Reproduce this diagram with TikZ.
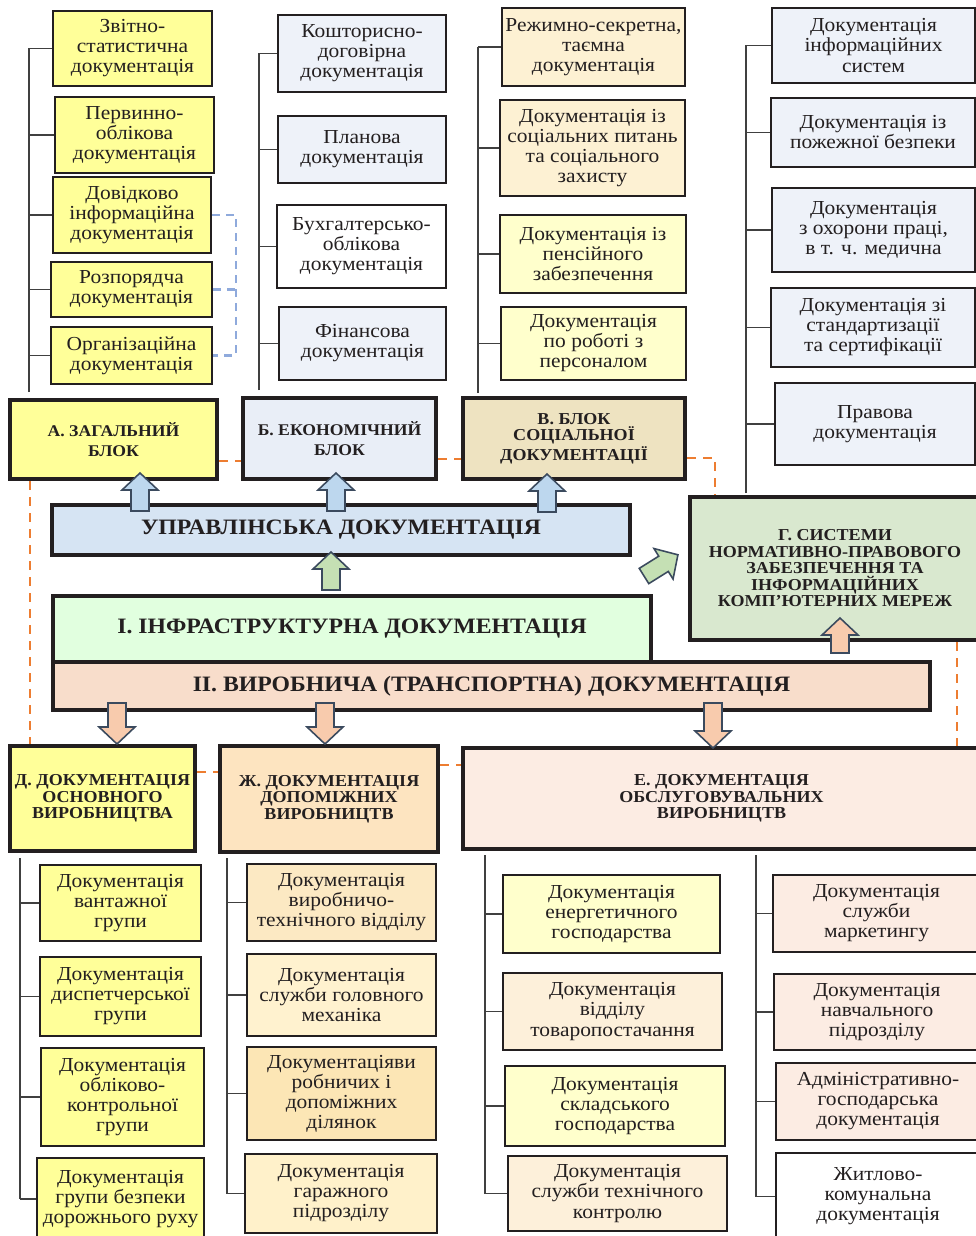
\documentclass[tikz,border=0pt]{standalone}
\usepackage{fontspec}
\setmainfont{Liberation Serif}[FakeStretch=1.08]

\definecolor{frame}{HTML}{231F20}
\definecolor{ink}{HTML}{231F20}
\definecolor{yel}{HTML}{FFFF99}
\definecolor{lightyel}{HTML}{FFFFCC}
\definecolor{leafblue}{HTML}{EEF2F9}
\definecolor{blkblue}{HTML}{E9EEF7}
\definecolor{lighttan}{HTML}{FDF1D3}
\definecolor{tanblk}{HTML}{EEE3C1}
\definecolor{mgmt}{HTML}{D6E4F3}
\definecolor{sysg}{HTML}{D9E8CF}
\definecolor{infra}{HTML}{E1FFDF}
\definecolor{prod}{HTML}{F8DDCB}
\definecolor{aux}{HTML}{FDE4C0}
\definecolor{serv}{HTML}{FCECE3}
\definecolor{zone}{HTML}{FCE9C3}
\definecolor{ztwo}{HTML}{FFF2CF}
\definecolor{zthree}{HTML}{FCE6B5}
\definecolor{zfour}{HTML}{FFF1CA}
\definecolor{etan}{HTML}{FDF0DA}
\definecolor{arrowblue}{HTML}{BDD7EE}
\definecolor{arrowgreen}{HTML}{C5E0B4}
\definecolor{arroworange}{HTML}{F8CBAD}
\definecolor{arrowline}{HTML}{3B4A5E}
\definecolor{dashorange}{HTML}{ED7D31}
\definecolor{dashblue}{HTML}{8FAADC}

\tikzset{
    sz/.style 2 args={minimum width=#1*0.2mm, minimum height=#2*0.2mm},
    leaf/.style={draw=frame, line width=1.6pt, align=center, inner sep=0pt,
        text=ink, font=\fontsize{11.3}{11.4}\selectfont},
    blk/.style={draw=frame, line width=2.4pt, align=center, inner sep=0pt,
        text=ink, font=\bfseries\fontsize{9.5}{9.4}\selectfont},
    hdA/.style={font=\bfseries\fontsize{9.3}{11.4}\selectfont},
    big/.style={font=\bfseries\fontsize{12.5}{14}\selectfont},
    tree/.style={draw=black!75, line width=0.7pt},
    odash/.style={draw=dashorange, line width=1.5pt, dash pattern=on 1.8mm off 1.4mm},
    bdash/.style={draw=dashblue, line width=1.3pt, dash pattern=on 1.6mm off 1.2mm},
    barrow/.style={draw=arrowline, line width=0.9pt, line join=miter},
}

% block arrow: [angle]{base}{length}{fill}
\newcommand\blockarr[4][0]{%
    \filldraw[barrow, fill=#4, rotate around={#1:#2}] #2 ++(-9,0) -- ++(0,-#3+17)
        -- ++(-9,0) -- ++(18,-17) -- ++(18,17) -- ++(-9,0) -- ++(0,#3-17) -- cycle;}

\begin{document}
\begin{tikzpicture}[x=0.2mm, y=-0.2mm]
    \useasboundingbox (0,0) rectangle (976,1236);

    \coordinate (ta) at (29,392);
    \coordinate (tb) at (259,390);
    \coordinate (tv) at (478,393);
    \coordinate (tg) at (746,493);
    \coordinate (td) at (20,858);
    \coordinate (tz) at (227,858);
    \coordinate (te) at (485,855);
    \coordinate (tf) at (756,855);

    \foreach \cx/\cy/\w/\h/\fc/\txt [count=\n] in {%
        132.5/48.5/159/75/yel/{Звітно-\\статистична\\документація},
        134.5/135/159/76/yel/{Первинно-\\облікова\\документація},
        132/215/158/76/yel/{Довідково\\інформаційна\\документація},
        131.5/289.5/161/55/yel/{Розпорядча\\документація},
        131.5/355.5/161/57/yel/{Організаційна\\документація}%
    }{
        \node[leaf, sz={\w}{\h}, fill=\fc] (a\n) at (\cx,\cy) {\txt};
        \draw[tree] (ta |- a\n.west) -- (a\n.west);
    }
    \foreach \cx/\cy/\w/\h/\fc/\txt [count=\n] in {%
        362/53.5/168/77/leafblue/{Кошторисно-\\договірна\\документація},
        362/149.5/168/67/leafblue/{Планова\\документація},
        361.5/246.5/169/83/white/{Бухгалтерсько-\\облікова\\документація},
        362.5/343.5/167/73/leafblue/{Фінансова\\документація}%
    }{
        \node[leaf, sz={\w}{\h}, fill=\fc] (b\n) at (\cx,\cy) {\txt};
        \draw[tree] (tb |- b\n.west) -- (b\n.west);
    }
    \foreach \cx/\cy/\w/\h/\fc/\txt [count=\n] in {%
        593.5/47/183/78/lighttan/{Режимно-секретна,\\таємна\\документація},
        592.5/148/185/96/lighttan/{Документація із\\соціальних питань\\та соціального\\захисту},
        593/254/186/78/lightyel/{Документація із\\пенсійного\\забезпечення},
        593.5/343.5/185/73/lightyel/{Документація\\по роботі з\\персоналом}%
    }{
        \node[leaf, sz={\w}{\h}, fill=\fc] (v\n) at (\cx,\cy) {\txt};
        \draw[tree] (tv |- v\n.west) -- (v\n.west);
    }
    \foreach \cx/\cy/\w/\h/\fc/\txt [count=\n] in {%
        873.5/45.5/203/75/leafblue/{Документація\\інформаційних\\систем},
        873/132.5/204/69/leafblue/{Документація із\\пожежної безпеки},
        873.5/230/203/84/leafblue/{Документація\\з охорони праці,\\в т. ч. медична},
        873/327.5/204/79/leafblue/{Документація зі\\стандартизації\\та сертифікації},
        875/424/200/82/leafblue/{Правова\\документація}%
    }{
        \node[leaf, sz={\w}{\h}, fill=\fc] (g\n) at (\cx,\cy) {\txt};
        \draw[tree] (tg |- g\n.west) -- (g\n.west);
    }
    \draw[tree] (ta) -- (ta |- a1.west);
    \draw[tree] (tb) -- (tb |- b1.west);
    \draw[tree] (tv) -- (tv |- v1.west);
    \draw[tree] (tg) -- (tg |- g1.west);

    \coordinate (bd) at (236,0);
    \draw[bdash] (a3.east) -| (bd |- a5.east) -- (a5.east);
    \draw[bdash] (a4.east) -- (bd |- a4.east);

    % blocks
    \node[blk, hdA, sz={207}{79}, fill=yel] (blA) at (113.5,439.5) {А. ЗАГАЛЬНИЙ\\БЛОК};
    \node[blk, hdA, sz={193}{81}, fill=blkblue] (blB) at (339.5,438.5) {Б. ЕКОНОМІЧНИЙ\\БЛОК};
    \node[blk, sz={222}{81}, fill=tanblk] (blV) at (574,438.5) {В. БЛОК\\СОЦІАЛЬНОЇ\\ДОКУМЕНТАЦІЇ};
    \node[blk, big, sz={578}{50}, fill=mgmt] (upr) at (341,530) {УПРАВЛІНСЬКА ДОКУМЕНТАЦІЯ};
    \node[blk, sz={290}{143}, fill=sysg] (blG) at (835,568.5)
        {Г. СИСТЕМИ\\НОРМАТИВНО-ПРАВОВОГО\\ЗАБЕЗПЕЧЕННЯ ТА\\ІНФОРМАЦІЙНИХ\\КОМП’ЮТЕРНИХ МЕРЕЖ};
    \node[blk, big, sz={598}{66}, fill=infra] (inf) at (352,629) {І. ІНФРАСТРУКТУРНА ДОКУМЕНТАЦІЯ};
    \node[blk, big, sz={877}{48}, fill=prod] (vyr) at (491.5,686) {ІІ. ВИРОБНИЧА (ТРАНСПОРТНА) ДОКУМЕНТАЦІЯ};
    \node[blk, sz={185}{105}, fill=yel] (blD) at (102.5,798.5) {Д. ДОКУМЕНТАЦІЯ\\ОСНОВНОГО\\ВИРОБНИЦТВА};
    \node[blk, sz={218}{106}, fill=aux] (blZh) at (329,799) {Ж. ДОКУМЕНТАЦІЯ\\ДОПОМІЖНИХ\\ВИРОБНИЦТВ};
    \node[blk, sz={517}{101}, fill=serv] (blE) at (721.5,798.5) {Е. ДОКУМЕНТАЦІЯ\\ОБСЛУГОВУВАЛЬНИХ\\ВИРОБНИЦТВ};

    % lower groups
    \foreach \cx/\cy/\w/\h/\fc/\txt [count=\n] in {%
        120.5/903/161/76/yel/{Документація\\вантажної\\групи},
        120.5/996.5/161/79/yel/{Документація\\диспетчерської\\групи},
        122.5/1097/163/98/yel/{Документація\\обліково-\\контрольної\\групи},
        120.5/1199/167/82/yel/{Документація\\групи безпеки\\дорожнього руху}%
    }{
        \node[leaf, sz={\w}{\h}, fill=\fc] (d\n) at (\cx,\cy) {\txt};
        \draw[tree] (td |- d\n.west) -- (d\n.west);
    }
    \foreach \cx/\cy/\w/\h/\fc/\txt [count=\n] in {%
        341.5/902.5/189/77/zone/{Документація\\виробничо-\\технічного відділу},
        341.5/995/189/82/ztwo/{Документація\\служби головного\\механіка},
        341.5/1093.5/189/93/zthree/{Документаціяви\\робничих і\\допоміжних\\ділянок},
        341/1193.5/192/79/zfour/{Документація\\гаражного\\підрозділу}%
    }{
        \node[leaf, sz={\w}{\h}, fill=\fc] (z\n) at (\cx,\cy) {\txt};
        \draw[tree] (tz |- z\n.west) -- (z\n.west);
    }
    \foreach \cx/\cy/\w/\h/\fc/\txt [count=\n] in {%
        611.5/914/217/78/lightyel/{Документація\\енергетичного\\господарства},
        612.5/1011.5/219/77/etan/{Документація\\відділу\\товаропостачання},
        615/1106/220/80/lightyel/{Документація\\складського\\господарства},
        617.5/1193.5/219/75/etan/{Документація\\служби технічного\\контролю},
        876.5/913.5/207/77/serv/{Документація\\служби\\маркетингу},
        877/1012/206/76/serv/{Документація\\навчального\\підрозділу},
        878/1101.5/204/77/serv/{Адміністративно-\\господарська\\документація},
        878/1196.5/204/87/white/{Житлово-\\комунальна\\документація}%
    }{
        \node[leaf, sz={\w}{\h}, fill=\fc] (e\n) at (\cx,\cy) {\txt};
    }
    \foreach \n in {1,...,4}{
        \draw[tree] (te |- e\n.west) -- (e\n.west);
    }
    \foreach \n in {5,...,8}{
        \draw[tree] (tf |- e\n.west) -- (e\n.west);
    }
    \draw[tree] (td) -- (td |- d4.west);
    \draw[tree] (tz) -- (tz |- z4.west);
    \draw[tree] (te) -- (te |- e4.west);
    \draw[tree] (tf) -- (tf |- e8.west);

    % arrows
    \blockarr{(140,511)}{38}{arrowblue}
    \blockarr{(336,511)}{38}{arrowblue}
    \blockarr{(547,512)}{38}{arrowblue}
    \blockarr{(331,590)}{38}{arrowgreen}
    \blockarr[-58]{(644,576)}{40}{arrowgreen}
    \blockarr{(840,653)}{35}{arroworange}
    \blockarr[180]{(117,703)}{41}{arroworange}
    \blockarr[180]{(325,703)}{41}{arroworange}
    \blockarr[180]{(713,703)}{45}{arroworange}

    % dashed links
    \coordinate (dAB) at (0,461);
    \coordinate (dBV) at (0,459);
    \coordinate (dVG) at (715,458);
    \coordinate (dAD) at (30,0);
    \coordinate (dDZ) at (0,772);
    \coordinate (dZE) at (0,765);
    \coordinate (dGE) at (957,0);
    \draw[odash] (blA.east |- dAB) -- (blB.west |- dAB);
    \draw[odash] (blB.east |- dBV) -- (blV.west |- dBV);
    \draw[odash] (blV.east |- dVG) -| (blG.north -| dVG);
    \draw[odash] (blA.south -| dAD) -- (blD.north -| dAD);
    \draw[odash] (blD.east |- dDZ) -- (blZh.west |- dDZ);
    \draw[odash] (blZh.east |- dZE) -- (blE.west |- dZE);
    \draw[odash] (blG.south -| dGE) -- (blE.north -| dGE);
\end{tikzpicture}
\end{document}
